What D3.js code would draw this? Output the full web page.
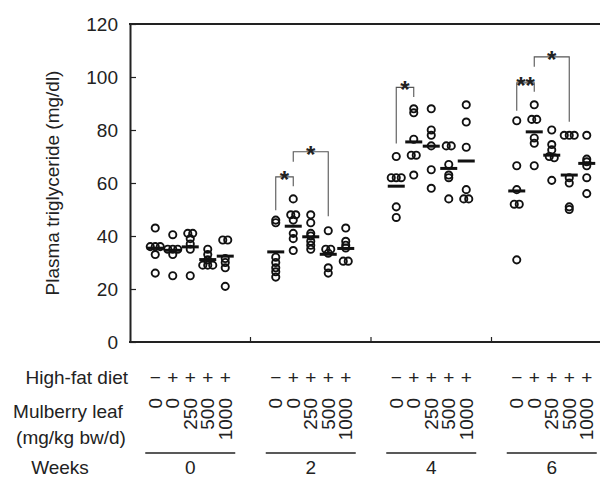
<!DOCTYPE html>
<html>
<head>
<meta charset="utf-8">
<script src="https://cdn.jsdelivr.net/npm/d3@7"></script>
<style>
body { margin: 0; background: #fff; }
svg text { font-family: "Liberation Sans", Arial, Helvetica, sans-serif; fill: #222; }
</style>
</head>
<body>
<svg width="602" height="480"></svg>
<script>
// categories
const weeks = ['0', '2', '4', '6'];
const highFat = ['\u2212', '+', '+', '+', '+'];
const doses = ['0', '0', '250', '500', '1000'];
const yTicks = [0, 20, 40, 60, 80, 100, 120];

// plasma TG of each animal, one array per dose group
const week0 = [
  [43, 36, 36, 36, 33, 26],
  [40.5, 35, 35, 35, 33, 25],
  [41, 41, 39, 37, 35, 25],
  [35, 33, 31, 29, 29, 29],
  [38.5, 38.5, 31.5, 30, 28, 21]
];
const week2 = [
  [46, 45, 32, 30, 28, 26.5, 24.5],
  [54, 48, 48, 46, 41, 39, 34.5],
  [48, 45, 41, 40, 38, 36.5, 35],
  [42, 35, 35, 33.5, 28, 26],
  [43, 38, 36.5, 35.5, 30.5, 30.5]
];
const week4 = [
  [70, 62, 62, 62, 51, 47],
  [88, 86.5, 76.5, 70.5, 70.5, 63],
  [88, 80, 78, 74, 65, 58],
  [74, 74, 67, 63, 62, 54],
  [89.5, 83, 73.5, 57.5, 54, 54]
];
const week6 = [
  [83.5, 66.5, 57.5, 52, 52, 31],
  [89.5, 84, 84, 77, 75, 66.5],
  [80, 74.5, 72.5, 70, 69.5, 61],
  [78, 78, 78, 62, 60, 51, 50],
  [78, 69, 68, 66.5, 62, 56]
];
const allWeeks = [week0, week2, week4, week6];

// group means (horizontal bars)
const means0 = [35.4, 34.6, 35.9, 31.1, 32.4];
const means2 = [34, 43.7, 39.7, 33.1, 35.3];
const means4 = [58.8, 75.5, 73.9, 65.5, 68.3];
const means6 = [57, 79.3, 70.5, 63, 67.4];
const allMeans = [means0, means2, means4, means6];

// significance brackets: week, from/to group, top, leg ends, label
const brackets = [
  { week: '2', from: 0, to: 1, top: 62.3, endFrom: 49.7, endTo: 58.8, label: '*' },
  { week: '2', from: 1, to: 3, top: 71.8, endFrom: 68, endTo: 47.5, label: '*' },
  { week: '4', from: 0, to: 1, top: 96.1, endFrom: 74.9, endTo: 92.5, label: '*' },
  { week: '6', from: 0, to: 1, top: 97.8, endFrom: 87.3, endTo: 94.4, label: '**' },
  { week: '6', from: 1, to: 3, top: 107.6, endFrom: 103.9, endTo: 83.1, label: '*' }
];

const svg = d3.select('svg');
const fontSize = 19;

const plotLeft = 130, plotRight = 600, plotTop = 24, plotBottom = 342;

const x = d3.scaleBand().domain(weeks).range([plotLeft, 612]);
const col = d3.scalePoint().domain(d3.range(5)).range([-35, 35]);
const y = d3.scaleLinear().domain([0, 120]).range([plotBottom, plotTop]);

const cx = (w, i) => x(w) + x.bandwidth() / 2 + col(i);

// y axis, ticks inward
const yAxis = svg.append('g')
  .attr('transform', `translate(${plotLeft},0)`)
  .call(d3.axisLeft(y).tickValues(yTicks).tickSizeInner(-6).tickSizeOuter(0).tickPadding(12));
yAxis.select('.domain').attr('stroke', '#222').attr('stroke-width', 2);
yAxis.selectAll('.tick line').attr('stroke', '#222').attr('stroke-width', 1.2);
yAxis.selectAll('.tick text')
  .style('font-size', fontSize + 'px')
  .attr('fill', '#222')
  .style('font-family', '"Liberation Sans", Arial, sans-serif');

// bottom and top lines
svg.append('line')
  .attr('x1', plotLeft - 1).attr('x2', plotRight)
  .attr('y1', y(0)).attr('y2', y(0))
  .attr('stroke', '#222').attr('stroke-width', 2);
svg.append('line')
  .attr('x1', plotLeft - 1).attr('x2', plotRight)
  .attr('y1', y(120)).attr('y2', y(120))
  .attr('stroke', '#222').attr('stroke-width', 2);

// small ticks between week groups
svg.selectAll('.sep')
  .data(weeks.slice(1))
  .join('line')
  .attr('x1', d => x(d)).attr('x2', d => x(d))
  .attr('y1', y(0)).attr('y2', y(0) - 5)
  .attr('stroke', '#222').attr('stroke-width', 1.2);

// y title
svg.append('text')
  .attr('transform', `translate(52,${(plotTop + plotBottom) / 2}) rotate(-90)`)
  .attr('text-anchor', 'middle')
  .attr('dy', '0.35em')
  .style('font-size', fontSize + 'px')
  .text('Plasma triglyceride (mg/dl)');

// points: equal values sit side by side
const points = [];
weeks.forEach((w, wi) => {
  allWeeks[wi].forEach((vals, gi) => {
    const sorted = vals.slice().sort((a, b) => b - a);
    const clusters = [];
    sorted.forEach(v => {
      const last = clusters[clusters.length - 1];
      if (last && Math.abs(last[0] - v) < 0.6) last.push(v);
      else clusters.push([v]);
    });
    clusters.forEach(c => {
      c.forEach((v, k) => {
        points.push({ x: cx(w, gi) + (k - (c.length - 1) / 2) * 5, v });
      });
    });
  });
});

svg.append('g')
  .selectAll('circle')
  .data(points)
  .join('circle')
  .attr('cx', d => d.x)
  .attr('cy', d => y(d.v))
  .attr('r', 3.6)
  .attr('fill', 'none')
  .attr('stroke', '#111')
  .attr('stroke-width', 1.9);

// mean bars
const meanData = [];
weeks.forEach((w, wi) => allMeans[wi].forEach((m, gi) => meanData.push({ x: cx(w, gi), m })));
svg.append('g')
  .selectAll('line')
  .data(meanData)
  .join('line')
  .attr('x1', d => d.x - 8.5).attr('x2', d => d.x + 8.5)
  .attr('y1', d => y(d.m)).attr('y2', d => y(d.m))
  .attr('stroke', '#111')
  .attr('stroke-width', 3);

// significance brackets
const br = svg.append('g').selectAll('g').data(brackets).join('g');
br.append('path')
  .attr('d', d => {
    const x1 = cx(d.week, d.from), x2 = cx(d.week, d.to);
    return `M${x1},${y(d.endFrom)}V${y(d.top)}H${x2}V${y(d.endTo)}`;
  })
  .attr('fill', 'none')
  .attr('stroke', '#555')
  .attr('stroke-width', 1.1);
br.append('text')
  .attr('x', d => (cx(d.week, d.from) + cx(d.week, d.to)) / 2)
  .attr('y', d => y(d.top) + 11)
  .attr('text-anchor', 'middle')
  .style('font-size', '24px')
  .style('font-weight', 'bold')
  .attr('fill', '#111')
  .text(d => d.label);

// table below the chart
const rowY = { diet: 377, dose: 398, line: 453, week: 467 };

svg.append('text')
  .attr('x', 128).attr('y', rowY.diet).attr('dy', '0.35em')
  .attr('text-anchor', 'end')
  .style('font-size', fontSize + 'px')
  .text('High-fat diet');
svg.append('text')
  .attr('x', 68).attr('y', 411).attr('dy', '0.35em')
  .attr('text-anchor', 'middle')
  .style('font-size', fontSize + 'px')
  .text('Mulberry leaf');
svg.append('text')
  .attr('x', 71).attr('y', 437).attr('dy', '0.35em')
  .attr('text-anchor', 'middle')
  .style('font-size', fontSize + 'px')
  .text('(mg/kg bw/d)');
svg.append('text')
  .attr('x', 60).attr('y', rowY.week).attr('dy', '0.35em')
  .attr('text-anchor', 'middle')
  .style('font-size', fontSize + 'px')
  .text('Weeks');

weeks.forEach(w => {
  const g = svg.append('g');
  g.selectAll('.diet')
    .data(highFat)
    .join('text')
    .attr('x', (d, i) => cx(w, i))
    .attr('y', rowY.diet)
    .attr('dy', '0.35em')
    .attr('text-anchor', 'middle')
    .style('font-size', fontSize + 'px')
    .text(d => d);
  g.selectAll('.dose')
    .data(doses)
    .join('text')
    .attr('transform', (d, i) => `translate(${cx(w, i)},${rowY.dose}) rotate(-90)`)
    .attr('dy', '0.35em')
    .attr('text-anchor', 'end')
    .style('font-size', fontSize + 'px')
    .text(d => d);
  const c = x(w) + x.bandwidth() / 2;
  g.append('line')
    .attr('x1', c - 45).attr('x2', c + 45)
    .attr('y1', rowY.line).attr('y2', rowY.line)
    .attr('stroke', '#222').attr('stroke-width', 1.5);
  g.append('text')
    .attr('x', c).attr('y', rowY.week).attr('dy', '0.35em')
    .attr('text-anchor', 'middle')
    .style('font-size', fontSize + 'px')
    .text(w);
});
</script>
</body>
</html>
